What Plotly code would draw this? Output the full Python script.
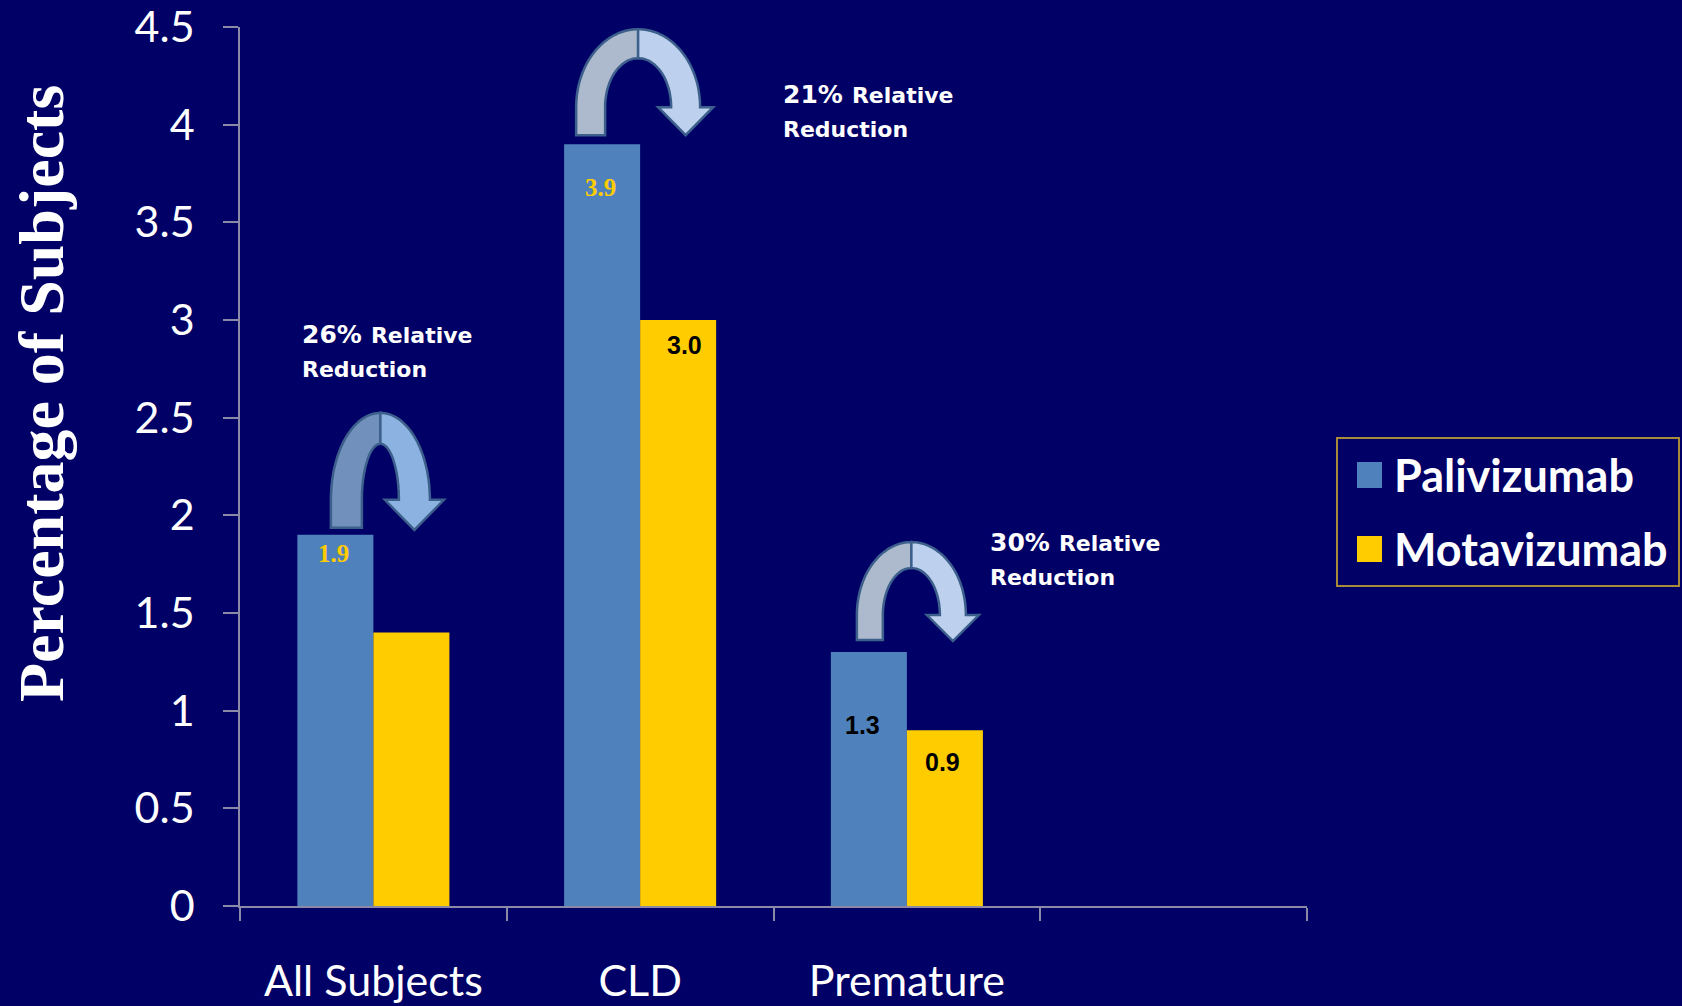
import numpy as np
import plotly.graph_objects as go

# ---- data ----
categories = ["All Subjects", "CLD", "Premature", " "]
series_names = ["Palivizumab", "Motavizumab"]
palivizumab = [1.9, 3.9, 1.3, None]
motavizumab = [1.4, 3.0, 0.9, None]
reduction_pct = ["26%", "21%", "30%"]
y_tick_vals = [0, 0.5, 1, 1.5, 2, 2.5, 3, 3.5, 4, 4.5]
y_tick_text = ["0", "0.5", "1", "1.5", "2", "2.5", "3", "3.5", "4", "4.5"]

# which bars carry a value label: (series index, category index)
labelled = [(0, 0), (0, 1), (1, 1), (0, 2), (1, 2)]

# ---- styling ----
BG = "#000066"
BLUE = "#4f81bd"
GOLD = "#ffcc00"
AXIS = "#8a8aa8"
W, H = 1682, 1006
ML, MR, MT, MB = 240, 375, 27, 100
PW, PH = W - ML - MR, H - MT - MB
HALF_BAR = 38  # pixel offset of each bar centre from its category centre

def px_x(px):
    return (px - ML) / PW

def px_y(py):
    return (H - MB - py) / PH

fig = go.Figure()
for name, vals, col in zip(series_names, [palivizumab, motavizumab], [BLUE, GOLD]):
    fig.add_trace(go.Bar(
        name=name, x=categories, y=vals,
        marker=dict(color=col, line=dict(width=0)),
        showlegend=False, hoverinfo="x+y+name",
    ))

# value labels inside bars
label_style = {
    (0, 0): dict(color=GOLD, family="Liberation Serif", size=25, drop=19),
    (0, 1): dict(color=GOLD, family="Liberation Serif", size=25, drop=43),
    (1, 1): dict(color="#000000", family="Liberation Sans", size=25, drop=25, dx=8),
    (0, 2): dict(color="#000000", family="Liberation Sans", size=25, drop=73, dx=-4),
    (1, 2): dict(color="#000000", family="Liberation Sans", size=25, drop=32),
}
series_vals = [palivizumab, motavizumab]
annotations = []
for (s, c) in labelled:
    v = series_vals[s][c]
    st = label_style[(s, c)]
    annotations.append(dict(
        x=categories[c], y=v, xref="x", yref="y",
        text=f"<b>{v:.1f}</b>", showarrow=False,
        xanchor="center", yanchor="middle",
        xshift=(-HALF_BAR if s == 0 else HALF_BAR) + st.get("dx", 0) - 2,
        yshift=-st["drop"],
        font=dict(family=st["family"], size=st["size"], color=st["color"]),
    ))

# "relative reduction" callouts, placed relative to the Palivizumab bar top
callout_offsets = [(-73, 218), (141, 67), (81, 127)]
for c, (pct, (dx, up)) in enumerate(zip(reduction_pct, callout_offsets)):
    annotations.append(dict(
        x=categories[c], y=palivizumab[c], xref="x", yref="y",
        text=(f"<b><span style='font-size:25px'>{pct}</span> "
              f"<span style='font-size:22px'>Relative</span><br>"
              f"<span style='font-size:22px'>Reduction</span></b>"),
        showarrow=False, xanchor="left", yanchor="top", align="left",
        xshift=dx, yshift=up,
        font=dict(family="DejaVu Sans", size=26, color="white"),
    ))

# y-axis title
annotations.append(dict(
    x=px_x(41), y=px_y(394), xref="paper", yref="paper",
    text="<b>Percentage of Subjects</b>", textangle=-90, showarrow=False,
    xanchor="center", yanchor="middle",
    font=dict(family="Liberation Serif", size=64, color="white"),
))


def pts_to_path(pts):
    return "M" + " L".join(f"{x:.1f},{y:.1f}" for x, y in pts) + " Z"


def arc_arrow(dx, base_up, rx, thick, peak_up, leg_up, tip_up, head_hw, n=40):
    """Curved 'over-the-top' arrow in pixel offsets (y upwards)."""
    cy = base_up
    rxo, rxi = rx + thick / 2, rx - thick / 2
    ryo = peak_up - cy
    ryi = ryo - thick
    tl = np.linspace(np.pi, np.pi / 2, n)
    outer_l = [(dx + rxo * np.cos(t), cy + ryo * np.sin(t)) for t in tl]
    inner_l = [(dx + rxi * np.cos(t), cy + ryi * np.sin(t)) for t in tl[::-1]]
    left = [(dx - rxo, leg_up)] + outer_l + inner_l + [(dx - rxi, leg_up)]
    tr = np.linspace(np.pi / 2, 0, n)
    outer_r = [(dx + rxo * np.cos(t), cy + ryo * np.sin(t)) for t in tr]
    inner_r = [(dx + rxi * np.cos(t), cy + ryi * np.sin(t)) for t in tr[::-1]]
    head = [(dx + rx + head_hw, cy), (dx + rx, tip_up), (dx + rx - head_hw, cy)]
    right = outer_r + head + inner_r
    return pts_to_path(left), pts_to_path(right)


arrow_geom = [
    dict(dx=7, base_up=35, rx=34, thick=31, peak_up=122, leg_up=7, tip_up=5, head_hw=29.5),
    dict(dx=-2, base_up=37, rx=47.5, thick=29, peak_up=115, leg_up=9, tip_up=9, head_hw=27.5),
    dict(dx=4.5, base_up=37, rx=41.5, thick=26, peak_up=110, leg_up=12, tip_up=11, head_hw=26),
]
arrow_fill = [("#7190bb", "#8cb2e2"), ("#adb9cd", "#bdd0ee"), ("#adb9cd", "#bdd0ee")]

shapes = []
for c, g in enumerate(arrow_geom):
    lp, rp = arc_arrow(**g)
    for path, fc in zip((lp, rp), arrow_fill[c]):
        shapes.append(dict(
            type="path", xref="x", yref="y",
            xsizemode="pixel", ysizemode="pixel",
            xanchor=categories[c], yanchor=palivizumab[c],
            path=path, fillcolor=fc,
            line=dict(color="#3d5f8c", width=2.5), layer="above",
        ))

# legend box
shapes.append(dict(
    type="rect", xref="paper", yref="paper",
    x0=px_x(1337), x1=px_x(1679), y0=px_y(586), y1=px_y(438),
    line=dict(color="#a88a3a", width=2), fillcolor=BG,
))
for i, (name, col) in enumerate(zip(series_names, [BLUE, GOLD])):
    cy = 475 + i * 74
    shapes.append(dict(
        type="rect", xref="paper", yref="paper",
        x0=px_x(1357), x1=px_x(1382), y0=px_y(cy + 13), y1=px_y(cy - 13),
        line=dict(width=0), fillcolor=col,
    ))
    annotations.append(dict(
        x=px_x(1392), y=px_y(cy), xref="paper", yref="paper",
        text=f"<b>{name}</b>", showarrow=False,
        xanchor="left", yanchor="middle",
        font=dict(family="Lato", size=45, color="white"),
    ))

fig.update_layout(
    width=W, height=H, autosize=False,
    margin=dict(l=ML, r=MR, t=MT, b=MB, autoexpand=False),
    paper_bgcolor=BG, plot_bgcolor=BG,
    barmode="group", bargap=0.43, bargroupgap=0,
    showlegend=False,
    annotations=annotations, shapes=shapes,
    xaxis=dict(
        type="category", categoryorder="array", categoryarray=categories,
        range=[-0.5, 3.5], tickson="boundaries", automargin=False,
        ticks="outside", ticklen=13, tickwidth=1.5, tickcolor=AXIS,
        showline=True, linecolor=AXIS, linewidth=2,
        showgrid=False, zeroline=False,
        tickfont=dict(family="Lato", size=43, color="white"),
        ticklabelstandoff=36,
    ),
    yaxis=dict(
        range=[0, 4.5], tickvals=y_tick_vals, ticktext=y_tick_text,
        automargin=False,
        ticks="outside", ticklen=15, tickwidth=1.5, tickcolor=AXIS,
        showline=True, linecolor=AXIS, linewidth=1.5,
        showgrid=False, zeroline=False,
        tickfont=dict(family="Lato", size=43, color="white"),
        ticklabelstandoff=20,
    ),
)

fig.write_html("out.html")
